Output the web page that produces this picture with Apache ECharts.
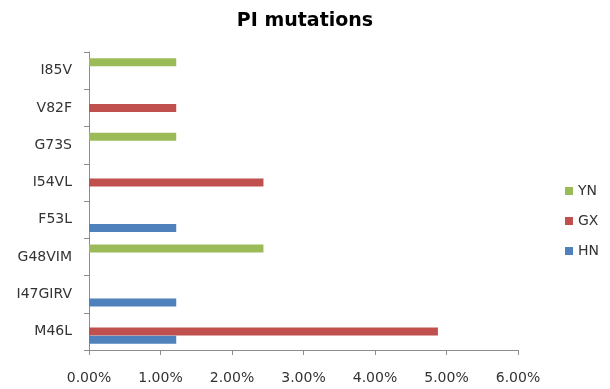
<!DOCTYPE html>
<html>
<head>
<meta charset="utf-8">
<script src="https://cdn.jsdelivr.net/npm/echarts@6/dist/echarts.min.js"></script>
<style>
	html, body { margin: 0; padding: 0; background: #fff; }
	#chart { width: 610px; height: 389px; }
</style>
</head>
<body>
<div id="chart"></div>
<script>
	var categories = ['M46L', 'I47GIRV', 'G48VIM', 'F53L', 'I54VL', 'G73S', 'V82F', 'I85V'];
	var seriesNames = ['YN', 'GX', 'HN'];
	// percent values
	var ynData = [0, 0, 2.44, 0, 0, 1.22, 0, 1.22];
	var gxData = [4.88, 0, 0, 0, 2.44, 0, 1.22, 0];
	var hnData = [1.22, 1.22, 0, 1.22, 0, 0, 0, 0];
	var xTicks = [0, 1, 2, 3, 4, 5, 6];

	var font = 'DejaVu Sans';
	var axisColor = '#8c8c8c';
	var colors = ['#9bbb59', '#c0504d', '#4f81bd'];

	var chart = echarts.init(document.getElementById('chart'));
	// ECharts puts the first series on top in a horizontal group,
	// so YN goes first to sit above GX and HN like the original
	var option = {
		animation: false,
		title: {
			text: 'PI mutations',
			left: 'center',
			top: 7,
			textStyle: {
				fontFamily: font,
				fontSize: 19,
				fontWeight: 'bold',
				color: '#000'
			}
		},
		legend: {
			orient: 'vertical',
			right: 6,
			top: 179,
			itemWidth: 8,
			itemHeight: 8,
			itemGap: 16,
			icon: 'rect',
			data: seriesNames,
			textStyle: {
				fontFamily: font,
				fontSize: 14,
				color: '#333'
			}
		},
		grid: {
			left: 89,
			right: 92,
			top: 52,
			bottom: 39
		},
		xAxis: {
			type: 'value',
			min: xTicks[0],
			max: xTicks[xTicks.length - 1],
			interval: 1,
			splitLine: { show: false },
			axisLine: { show: true, lineStyle: { color: axisColor } },
			axisTick: { show: true, length: 5, lineStyle: { color: axisColor } },
			axisLabel: {
				margin: 21,
				fontFamily: font,
				fontSize: 14,
				color: '#333',
				formatter: function (v) { return v.toFixed(2) + '%'; }
			}
		},
		yAxis: {
			type: 'category',
			data: categories,
			axisLine: { show: true, lineStyle: { color: axisColor } },
			axisTick: { show: true, length: 5, lineStyle: { color: axisColor } },
			axisLabel: {
				margin: 17,
				fontFamily: font,
				fontSize: 14,
				color: '#333'
			}
		},
		series: [{
			name: seriesNames[0],
			type: 'bar',
			data: ynData,
			itemStyle: { color: colors[0] },
			barWidth: 8,
			barGap: '4%'
		}, {
			name: seriesNames[1],
			type: 'bar',
			data: gxData,
			itemStyle: { color: colors[1] },
			barWidth: 8
		}, {
			name: seriesNames[2],
			type: 'bar',
			data: hnData,
			itemStyle: { color: colors[2] },
			barWidth: 8
		}]
	};
	chart.setOption(option);
</script>
</body>
</html>
